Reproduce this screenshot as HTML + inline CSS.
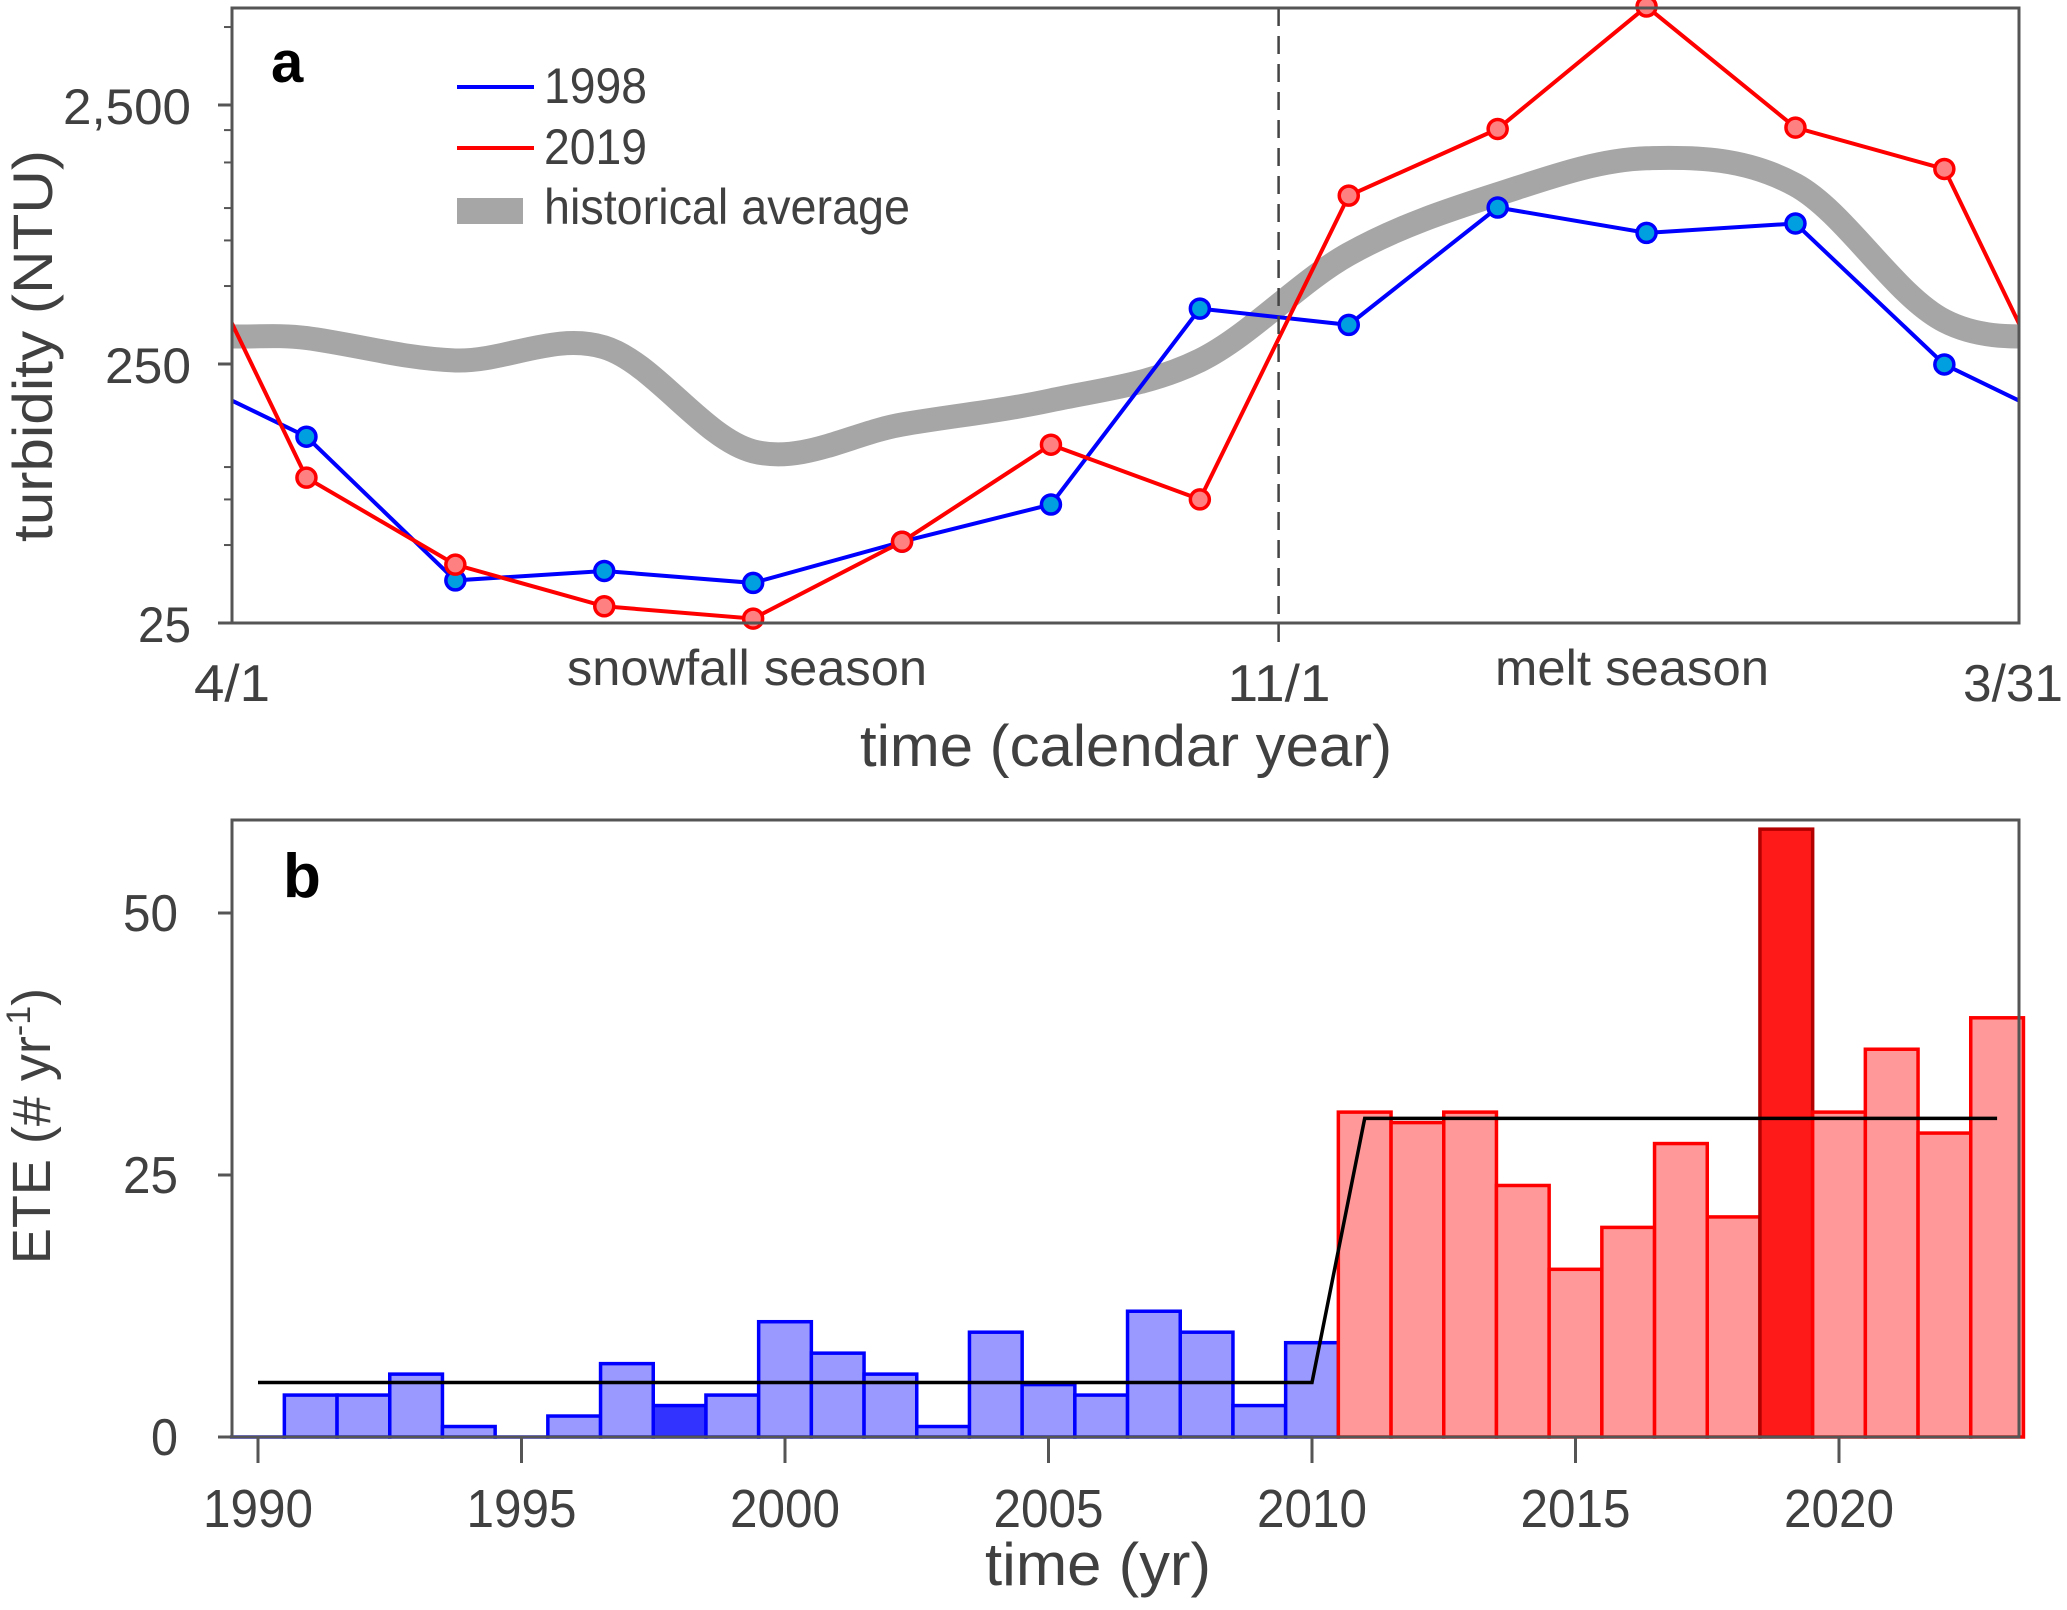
<!DOCTYPE html>
<html><head><meta charset="utf-8"><style>
html,body{margin:0;padding:0;background:#fff;}
svg{display:block;font-family:"Liberation Sans",sans-serif;}
</style></head><body>
<svg id="chart" width="2067" height="1610" viewBox="0 0 2067 1610" xmlns="http://www.w3.org/2000/svg">
<defs>
<clipPath id="clipA"><rect x="232" y="8" width="1787" height="615"/></clipPath>
</defs>
<g id="panelA"></g>
<g id="panelB"></g>
</svg>
<script>
// ---------- Panel a data ----------
const months = ["Apr","May","Jun","Jul","Aug","Sep","Oct","Nov","Dec","Jan","Feb","Mar"];
const turb1998 = [131, 36.5, 39.7, 35.7, 51.5, 71.7, 409, 354, 1005, 802, 872, 249];
const turb2019 = [91, 42, 29, 26, 51.5, 122, 75, 1117, 2020, 6000, 2045, 1416];
const turbHist = [315, 258, 290, 115, 146, 181, 258, 664, 1131, 1557, 1228, 367];
const turbTicks = [25, 250, 2500];
const turbTickLabels = ["25", "250", "2,500"];
const turbMinorTicks = [50, 75, 100, 500, 750, 1000, 1500, 2000, 5000];
const dateTicks = [0, 214, 364];
const dateTickLabels = ["4/1", "11/1", "3/31"];

// ---------- Panel b data ----------
const years = [1990,1991,1992,1993,1994,1995,1996,1997,1998,1999,2000,2001,2002,2003,2004,2005,2006,2007,2008,2009,2010,2011,2012,2013,2014,2015,2016,2017,2018,2019,2020,2021,2022,2023];
const eteCounts = [0,4,4,6,1,0,2,7,3,4,11,8,6,1,10,5,4,12,10,3,9,31,30,31,24,16,20,28,21,58,31,37,29,40];
const stepYears = [1990, 2010, 2011, 2023];
const stepValues = [5.2, 5.2, 30.4, 30.4];
const eteTicks = [0, 25, 50];
const yearTicks = [1990, 1995, 2000, 2005, 2010, 2015, 2020];

const NS = "http://www.w3.org/2000/svg";
function mk(parent, tag, attrs, text){
  const e = document.createElementNS(NS, tag);
  for (const k in attrs) e.setAttribute(k, attrs[k]);
  if (text !== undefined) e.textContent = text;
  parent.appendChild(e);
  return e;
}
function txt(parent, attrs, text){
  attrs.lengthAdjust = "spacingAndGlyphs";
  return mk(parent, "text", attrs, text);
}
const TXT = "#404040", AX = "#555";

// ---------- Panel a ----------
const A = document.getElementById("panelA");
const aL=232, aR=2019, aT=8, aB=623;
const xA = d => aL + d/364*(aR-aL);
const yA = v => 364 - (Math.log10(v) - Math.log10(250))*259;
const mid = i => (i+0.5)*30.33;

function catmull(pts){
  let d = `M${pts[1][0]},${pts[1][1]}`;
  for (let i=1;i<pts.length-2;i++){
    const p0=pts[i-1],p1=pts[i],p2=pts[i+1],p3=pts[i+2];
    const c1=[p1[0]+(p2[0]-p0[0])/6, p1[1]+(p2[1]-p0[1])/6];
    const c2=[p2[0]-(p3[0]-p1[0])/6, p2[1]-(p3[1]-p1[1])/6];
    d += ` C${c1[0]},${c1[1]} ${c2[0]},${c2[1]} ${p2[0]},${p2[1]}`;
  }
  return d;
}
function wrapPts(vals){
  const n = vals.length;
  const pts = [[xA(mid(n-2)-364), yA(vals[n-2])],[xA(mid(n-1)-364), yA(vals[n-1])]];
  vals.forEach((v,i)=>pts.push([xA(mid(i)), yA(v)]));
  pts.push([xA(mid(0)+364), yA(vals[0])]);
  pts.push([xA(mid(1)+364), yA(vals[1])]);
  return pts;
}
const gClip = mk(A, "g", {"clip-path":"url(#clipA)"});


const hist = mk(gClip, "path", {d: catmull(wrapPts(turbHist)), fill:"none", stroke:"#a6a6a6", "stroke-width":24, "stroke-linejoin":"round"});



function series(vals, color, mfill, name){
  const n = vals.length;
  const pts = [[xA(mid(n-1)-364), yA(vals[n-1])]];
  vals.forEach((v,i)=>pts.push([xA(mid(i)), yA(v)]));
  pts.push([xA(mid(0)+364), yA(vals[0])]);
  const ln = mk(gClip, "polyline", {points: pts.map(p=>p.join(",")).join(" "), fill:"none", stroke:color, "stroke-width":4});
  
  
  vals.forEach((v,i)=>{
    const c = mk(A, "circle", {cx:xA(mid(i)), cy:yA(v), r:9.5, fill:mfill, stroke:color, "stroke-width":3.5});
    
    
  });
}
series(turb1998, "#0000ff", "#00a0e0", "series-1998");
series(turb2019, "#ff0000", "#ff8080", "series-2019");

const dl = mk(A, "line", {x1:xA(214)-4, x2:xA(214)-4, y1:aT, y2:642, stroke:"#444", "stroke-width":2.5, "stroke-dasharray":"18,10"});



const frA = mk(A, "rect", {x:aL, y:aT, width:aR-aL, height:aB-aT, fill:"none", stroke:AX, "stroke-width":3});



const yTickW = [53, 86, 128];
turbTicks.forEach((t,i)=>{
  mk(A, "line", {x1:aL-14, x2:aL, y1:yA(t), y2:yA(t), stroke:AX, "stroke-width":3});
  const tx = txt(A, {x:191, y:yA(t)+19, "text-anchor":"end", "font-size":50, fill:TXT, textLength:yTickW[i]}, turbTickLabels[i]);
  
  
});
turbMinorTicks.forEach(t=>{
  mk(A, "line", {x1:aL-8, x2:aL, y1:yA(t), y2:yA(t), stroke:AX, "stroke-width":2});
});
const dateW = [76, 103, 100];
const dateX = [232, 1279, 2013];
dateTicks.forEach((d,i)=>{
  const tx = txt(A, {x:dateX[i], y:701, "text-anchor":"middle", "font-size":52, fill:TXT, textLength:dateW[i]}, dateTickLabels[i]);
  
  
});
let t;
t = txt(A, {x:747, y:685, "text-anchor":"middle", "font-size":50, fill:TXT, textLength:360}, "snowfall season");
 
t = txt(A, {x:1632, y:685, "text-anchor":"middle", "font-size":50, fill:TXT, textLength:274}, "melt season");
 
t = txt(A, {x:1126, y:766, "text-anchor":"middle", "font-size":58, fill:TXT, textLength:532}, "time (calendar year)");
 
t = txt(A, {x:0, y:0, transform:"translate(52,346) rotate(-90)", "text-anchor":"middle", "font-size":56, fill:TXT, textLength:392}, "turbidity (NTU)");
 
t = mk(A, "text", {x:271, y:82, "font-size":58, "font-weight":"bold", fill:"#000"}, "a");
 

const lg = mk(A, "g", {});
 
mk(lg, "line", {x1:457, x2:534, y1:87, y2:87, stroke:"#0000ff", "stroke-width":4});
t = txt(lg, {x:544, y:103, "font-size":50, fill:TXT, textLength:103}, "1998");
 
mk(lg, "line", {x1:457, x2:534, y1:148, y2:148, stroke:"#ff0000", "stroke-width":4});
t = txt(lg, {x:544, y:164, "font-size":50, fill:TXT, textLength:103}, "2019");
 
mk(lg, "rect", {x:457, y:198, width:66, height:26, fill:"#a6a6a6"});
t = txt(lg, {x:544, y:224, "font-size":50, fill:TXT, textLength:366}, "historical average");
 

// ---------- Panel b ----------
const B = document.getElementById("panelB");
const bL=232, bR=2019, bT=820, bB=1437;
const xB = y => 258 + (y-1990)*52.7;
const yB = v => bB - v*(262/25);

years.forEach((yr,i)=>{
  const v = eteCounts[i];
  const red = yr >= 2011;
  let fill = red ? "#ff9999" : "#9999ff";
  let stroke = red ? "#ff0000" : "#0000ff";
  if (yr === 1998) fill = "#3333ff";
  if (yr === 2019) { fill = "#ff1a1a"; stroke = "#b30000"; }
  const r = mk(B, "rect", {x:xB(yr-0.5), y:yB(v), width:52.7, height:Math.max(bB-yB(v),0.01), fill, stroke, "stroke-width":3.5});
  
  
});
const step = mk(B, "polyline", {points: stepYears.map((y,i)=>xB(y)+","+yB(stepValues[i])).join(" "), fill:"none", stroke:"#000", "stroke-width":3.5});



const frB = mk(B, "rect", {x:bL, y:bT, width:bR-bL, height:bB-bT, fill:"none", stroke:AX, "stroke-width":3});


eteTicks.forEach(v=>{
  mk(B, "line", {x1:bL-14, x2:bL, y1:yB(v), y2:yB(v), stroke:AX, "stroke-width":3});
  const tx = txt(B, {x:178, y:yB(v)+18, "text-anchor":"end", "font-size":52, fill:TXT, textLength: v===0 ? 27 : 55}, String(v));
  
  
});
yearTicks.forEach(y=>{
  mk(B, "line", {x1:xB(y), x2:xB(y), y1:bB, y2:1463, stroke:AX, "stroke-width":3});
  const tx = txt(B, {x:xB(y), y:1527, "text-anchor":"middle", "font-size":54, fill:TXT, textLength:110}, String(y));
  
  
});
t = txt(B, {x:1098, y:1585, "text-anchor":"middle", "font-size":60, fill:TXT, textLength:226}, "time (yr)");
 
t = mk(B, "text", {x:0, y:0, transform:"translate(50,1126) rotate(-90)", "text-anchor":"middle", "font-size":54, fill:TXT});
 
t.appendChild(document.createTextNode("ETE (# yr"));
mk(t, "tspan", {"font-size":34, dy:-20}, "-1");
mk(t, "tspan", {dy:20}, ")");
t = mk(B, "text", {x:283, y:897, "font-size":62, "font-weight":"bold", fill:"#000"}, "b");
 
</script>
</body></html>
